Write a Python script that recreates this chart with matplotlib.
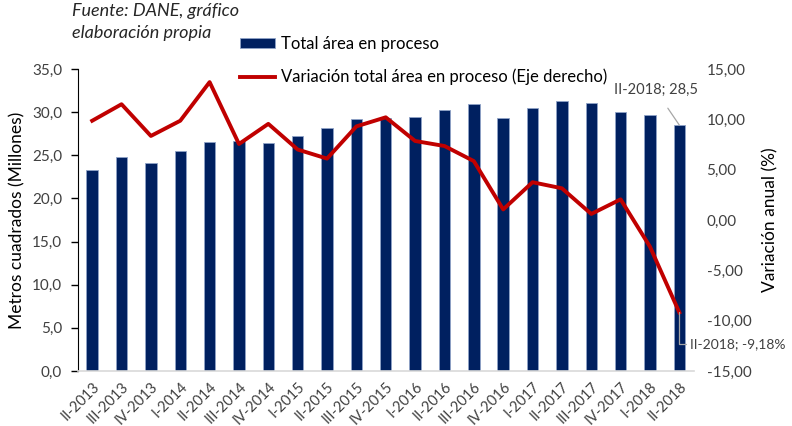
import matplotlib
matplotlib.use("Agg")
import matplotlib.pyplot as plt
import numpy as np

plt.rcParams['font.family'] = ['Lato', 'DejaVu Sans']

# Datos
trimestres = ['II-2013', 'III-2013', 'IV-2013', 'I-2014', 'II-2014', 'III-2014', 'IV-2014',
              'I-2015', 'II-2015', 'III-2015', 'IV-2015', 'I-2016', 'II-2016', 'III-2016',
              'IV-2016', 'I-2017', 'II-2017', 'III-2017', 'IV-2017', 'I-2018', 'II-2018']
area_total = [23.3, 24.8, 24.1, 25.5, 26.5, 26.7, 26.4, 27.2, 28.2, 29.2, 29.3, 29.4,
              30.3, 30.9, 29.35, 30.5, 31.3, 31.1, 30.0, 29.7, 28.5]
variacion = [9.86, 11.5, 8.35, 9.86, 13.7, 7.55, 9.55, 7.0, 6.1, 9.3, 10.2, 7.85,
             7.35, 5.85, 1.05, 3.75, 3.15, 0.6, 2.05, -2.65, -9.18]

left_ticks = np.arange(0, 35.1, 5)
right_ticks = np.arange(-15, 15.1, 5)

fig = plt.figure(figsize=(7.92, 4.26), dpi=100)
ax = fig.add_axes([77.5 / 792, 1 - 371 / 426, (694 - 77.5) / 792, (371 - 69) / 426])
ax2 = ax.twinx()

x = np.arange(len(trimestres))
bars = ax.bar(x, area_total, width=0.39, color='#002060', edgecolor='#8FA3C8',
              linewidth=0.6, label='Total área en proceso', zorder=2)
line, = ax2.plot(x, variacion, color='#C00000', linewidth=2.8,
                 label='Variación total área en proceso (Eje derecho)', zorder=3)

ax.set_xlim(-0.5, len(trimestres) - 0.5)
ax.set_ylim(0, 35)
ax2.set_ylim(-15, 15)
ax.set_yticks(left_ticks)
ax.set_yticklabels([f'{v:.1f}'.replace('.', ',') for v in left_ticks])
ax2.set_yticks(right_ticks)
ax2.set_yticklabels([f'{v:.2f}'.replace('.', ',') for v in right_ticks], ha='left')

ax.set_xticks(x)
ax.set_xticklabels(trimestres, rotation=45, ha='right', rotation_mode='anchor')

for a in (ax, ax2):
    a.spines['top'].set_visible(False)
    a.spines['right'].set_visible(False)
ax2.spines['left'].set_visible(False)
ax2.spines['bottom'].set_visible(False)
ax.spines['bottom'].set_color('#D9D9D9')
ax.spines['bottom'].set_linewidth(1.2)
ax.spines['left'].set_color('black')

ax.tick_params(axis='y', direction='out', length=5, width=1, labelsize=11,
               colors='black', labelcolor='#404040', pad=6)
ax.tick_params(axis='x', length=0, labelsize=10.5, labelcolor='#404040', pad=6)
ax2.tick_params(axis='y', length=0, labelsize=11, labelcolor='#404040', pad=9)

ax.set_ylabel('Metros cuadrados (Millones)', fontsize=12.5, labelpad=5)
ax2.set_ylabel('Variación anual (%)', fontsize=12.5, labelpad=8)

# Etiquetas del ultimo dato
ax.annotate('II-2018; 28,5', xy=(x[-1], area_total[-1]), xytext=(-17, 25),
            textcoords='offset points', fontsize=10.5, color='#404040',
            ha='center', va='center',
            arrowprops=dict(arrowstyle='-', color='#A6A6A6', lw=0.9,
                            shrinkA=7, shrinkB=0))
ax2.annotate('II-2018; -9,18%', xy=(x[-1], variacion[-1]), xytext=(8, -23),
             textcoords='offset points', fontsize=10, color='#404040',
             ha='left', va='center',
             arrowprops=dict(arrowstyle='-', color='#A6A6A6', lw=0.9,
                             connectionstyle='angle,angleA=0,angleB=90,rad=0',
                             shrinkA=1, shrinkB=0))

fig.text(72 / 792, 1 - 3 / 426, 'Fuente: DANE, gráfico\nelaboración propia',
         fontsize=13, style='italic', color='#262626', va='top', ha='left',
         linespacing=1.45)

fig.legend(handles=[bars, line], loc='upper left', bbox_to_anchor=(240 / 792, 1 - 36 / 426),
           frameon=False, fontsize=12, labelspacing=1.0, handlelength=2.1,
           handleheight=0.6, handletextpad=0.35, borderaxespad=0, borderpad=0)

plt.savefig('out.png', dpi=100)
